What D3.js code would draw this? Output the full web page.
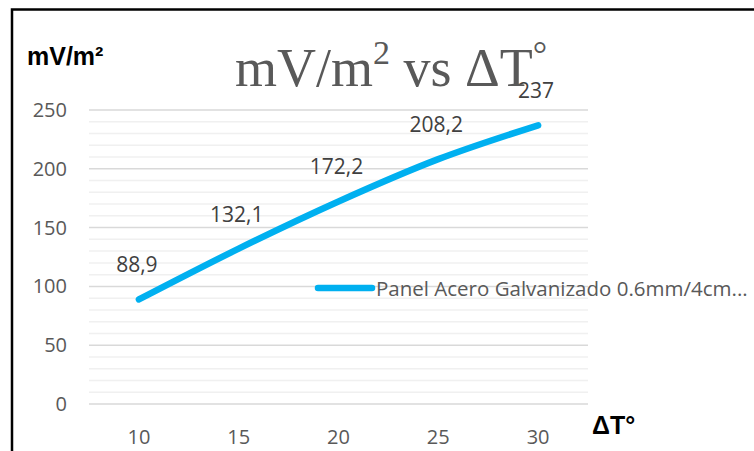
<!DOCTYPE html>
<html>
<head>
    <meta charset="utf-8" />
    <title>mV/m2 vs ΔT</title>
    <script src="https://d3js.org/d3.v7.min.js" charset="utf-8"></script>
    <style>
        body { margin: 0; background: #fff; }
        svg { display: block; }
    </style>
</head>
<body>
    <script>
        // chart data
        const categories = ["10", "15", "20", "25", "30"];
        const values = [88.9, 132.1, 172.2, 208.2, 237];
        const valueLabels = ["88,9", "132,1", "172,2", "208,2", "237"];
        const yTicks = [0, 50, 100, 150, 200, 250];
        const seriesName = "Panel Acero Galvanizado 0.6mm/4cm...";

        const width = 754, height = 451;
        const plot = { left: 89, right: 588, top: 110, bottom: 404 };
        const lineColor = "#00b0f0";
        const textColor = "#595959";
        const sans = "'Open Sans', sans-serif";

        const svg = d3.select("body").append("svg")
            .attr("width", width)
            .attr("height", height);

        // outer frame of the chart area (runs off right and bottom)
        svg.append("path")
            .attr("d", `M12,${height + 5} L12,9.5 L${width + 5},9.5`)
            .attr("fill", "none")
            .attr("stroke", "#000")
            .attr("stroke-width", 2.5);

        const x = d3.scaleBand()
            .domain(categories)
            .range([plot.left, plot.right]);

        const y = d3.scaleLinear()
            .domain([0, 250])
            .range([plot.bottom, plot.top]);

        // minor gridlines every 10
        svg.append("g")
            .selectAll("line")
            .data(d3.range(10, 250, 10).filter(v => v % 50 !== 0))
            .join("line")
            .attr("x1", plot.left)
            .attr("x2", plot.right)
            .attr("y1", d => y(d))
            .attr("y2", d => y(d))
            .attr("stroke", "#f0f0f0")
            .attr("stroke-width", 1.5);

        // major gridlines
        svg.append("g")
            .selectAll("line")
            .data(yTicks)
            .join("line")
            .attr("x1", plot.left)
            .attr("x2", plot.right)
            .attr("y1", d => y(d))
            .attr("y2", d => y(d))
            .attr("stroke", "#d9d9d9")
            .attr("stroke-width", 1.5);

        // y tick labels
        svg.append("g")
            .selectAll("text")
            .data(yTicks)
            .join("text")
            .attr("x", 67)
            .attr("y", d => y(d) + 7)
            .attr("text-anchor", "end")
            .attr("font-family", sans)
            .attr("font-size", 20)
            .attr("fill", textColor)
            .text(d => d);

        // x tick labels
        svg.append("g")
            .selectAll("text")
            .data(categories)
            .join("text")
            .attr("x", d => x(d) + x.bandwidth() / 2)
            .attr("y", 444)
            .attr("text-anchor", "middle")
            .attr("font-family", sans)
            .attr("font-size", 20)
            .attr("fill", textColor)
            .text(d => d);

        // series line
        const points = categories.map((c, i) => ({ c, v: values[i], label: valueLabels[i] }));
        const line = d3.line()
            .x(d => x(d.c) + x.bandwidth() / 2)
            .y(d => y(d.v))
            .curve(d3.curveMonotoneX);

        svg.append("path")
            .datum(points)
            .attr("d", line)
            .attr("fill", "none")
            .attr("stroke", lineColor)
            .attr("stroke-width", 6.5)
            .attr("stroke-linecap", "round")
            .attr("stroke-linejoin", "round");

        // value labels
        svg.append("g")
            .selectAll("text")
            .data(points)
            .join("text")
            .attr("x", d => x(d.c) + x.bandwidth() / 2 - 2)
            .attr("y", d => y(d.v) - 27)
            .attr("text-anchor", "middle")
            .attr("font-family", sans)
            .attr("font-size", 21)
            .attr("fill", "#404040")
            .text(d => d.label);

        // title
        const title = svg.append("text")
            .attr("x", 391)
            .attr("y", 86)
            .attr("text-anchor", "middle")
            .attr("font-family", "'Liberation Serif', serif")
            .attr("font-size", 54)
            .attr("fill", textColor);
        title.append("tspan").text("mV/m");
        title.append("tspan").attr("dy", -22).attr("font-size", 34).text("2");
        title.append("tspan").attr("dy", 22).text(" vs ΔT");
        title.append("tspan").attr("dy", -20).attr("font-size", 36).text("°");

        // axis titles
        svg.append("text")
            .attr("x", 27)
            .attr("y", 65)
            .attr("font-family", "'Liberation Sans', Arial, sans-serif")
            .attr("font-weight", "bold")
            .attr("font-size", 25)
            .attr("fill", "#000")
            .text("mV/m²");

        svg.append("text")
            .attr("x", 592)
            .attr("y", 434)
            .attr("font-family", "'Liberation Sans', Arial, sans-serif")
            .attr("font-weight", "bold")
            .attr("font-size", 25)
            .attr("fill", "#000")
            .text("ΔT°");

        // legend
        svg.append("line")
            .attr("x1", 318)
            .attr("x2", 372)
            .attr("y1", 288)
            .attr("y2", 288)
            .attr("stroke", lineColor)
            .attr("stroke-width", 6.5)
            .attr("stroke-linecap", "round");

        svg.append("text")
            .attr("x", 376)
            .attr("y", 296)
            .attr("font-family", sans)
            .attr("font-size", 20.5)
            .attr("fill", textColor)
            .text(seriesName);
    </script>
</body>
</html>
